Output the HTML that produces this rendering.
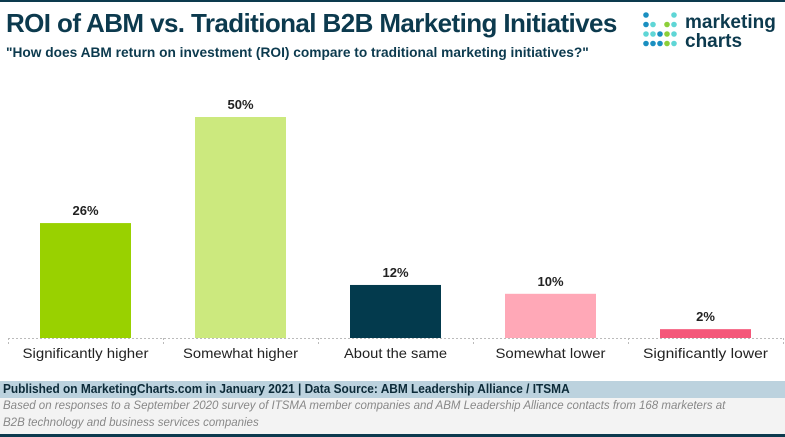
<!DOCTYPE html>
<html><head><meta charset="utf-8"><style>
body{margin:0;width:785px;height:437px;overflow:hidden;background:#fff;font-family:"Liberation Sans",sans-serif;position:relative}
.abs{position:absolute}
</style></head><body>
<div class="abs" style="left:0;top:0;width:785px;height:2px;background:#0c3a4e"></div>
<div class="abs" style="left:6px;top:8px;font-size:26px;font-weight:bold;color:#0c3a4e;letter-spacing:-0.6px;white-space:nowrap;transform:scaleX(1.0);transform-origin:left">ROI of ABM vs. Traditional B2B Marketing Initiatives</div>
<div class="abs" style="left:6px;top:44px;font-size:14px;font-weight:bold;color:#0c3a4e;white-space:nowrap;transform:scaleX(0.98);transform-origin:left">"How does ABM return on investment (ROI) compare to traditional marketing initiatives?"</div>
<svg class="abs" style="left:640px;top:8px" width="145" height="45" id="logo"></svg>
<svg class="abs" style="left:0;top:0" width="785" height="380" id="chart"></svg>
<div class="abs" style="left:0;top:381px;width:785px;height:17px;background:#bcd2de;font-size:12.5px;font-weight:bold;color:#0c2a38;line-height:17px;padding-left:3px;white-space:nowrap"><span style="display:inline-block;transform:scaleX(0.95);transform-origin:left">Published on MarketingCharts.com in January 2021 | Data Source: ABM Leadership Alliance / ITSMA</span></div>
<div class="abs" style="left:0;top:398px;width:785px;height:36px;background:#f3f3f3;font-size:11.5px;font-style:italic;color:#888;line-height:17px;padding-left:3px;white-space:nowrap"><span style="display:inline-block;transform:scaleX(1.0);transform-origin:left">Based on responses to a September 2020 survey of ITSMA member companies and ABM Leadership Alliance contacts from 168 marketers at<br>B2B technology and business services companies</span></div>
<div class="abs" style="left:0;top:434px;width:785px;height:3px;background:#0c3a4e"></div>
<script>
const categories=["Significantly higher","Somewhat higher","About the same","Somewhat lower","Significantly lower"];
const values=[26,50,12,10,2];
const colors=["#99d100","#cce97e","#033a4d","#ffa8b7","#f4587a"];
const NS="http://www.w3.org/2000/svg";
const svg=document.getElementById('chart');
const x0=8,step=155,barW=91,base=338,scale=4.42;
const xPos=i=>x0+step*i+(step-barW)/2;
const yPos=v=>base-v*scale;
function mk(t,a){const e=document.createElementNS(NS,t);for(const k in a)e.setAttribute(k,a[k]);svg.appendChild(e);return e;}
const ax=mk('line',{x1:x0,x2:x0+step*5,y1:base+0.5,y2:base+0.5,stroke:'#bbb','stroke-dasharray':'2,2'});


for(let i=0;i<=5;i++){const t=mk('line',{x1:x0+step*i+0.5,x2:x0+step*i+0.5,y1:base,y2:base+6,stroke:'#bbb','stroke-dasharray':'2,2'});

}
values.forEach((v,i)=>{
const r=mk('rect',{x:xPos(i),y:yPos(v),width:barW,height:v*scale,fill:colors[i]});


const l=mk('text',{x:xPos(i)+barW/2,y:yPos(v)-8,'text-anchor':'middle','font-size':'13','font-weight':'bold',fill:'#222'});
l.textContent=v+'%';


const c=mk('text',{x:x0+step*i+step/2,y:base+20,'text-anchor':'middle','font-size':'14',fill:'#222',textLength:[126,115,103,110,125][i],lengthAdjust:'spacingAndGlyphs'});
c.textContent=categories[i];


});
const lg=document.getElementById('logo');
const pat=[["b",0,0,0,"t"],["b","t",0,"g","t"],["t","t","b","g","t"],["b","b","b","g","t"]];
const cm={b:"#1a8fc0",t:"#5fd6d6",g:"#8ccf3a"};
pat.forEach((row,r)=>row.forEach((c,k)=>{if(!c)return;const d=document.createElementNS(NS,'circle');d.setAttribute('cx',6+k*7);d.setAttribute('cy',7+r*9.5);d.setAttribute('r',2.8);d.setAttribute('fill',cm[c]);lg.appendChild(d);}));
['marketing','charts'].forEach((w,i)=>{const t=document.createElementNS(NS,'text');t.setAttribute('x',45);t.setAttribute('y',20+i*19);t.setAttribute('font-size','19');t.setAttribute('font-weight','bold');t.setAttribute('fill','#0c3a4e');t.textContent=w;lg.appendChild(t);});
</script>
</body></html>
